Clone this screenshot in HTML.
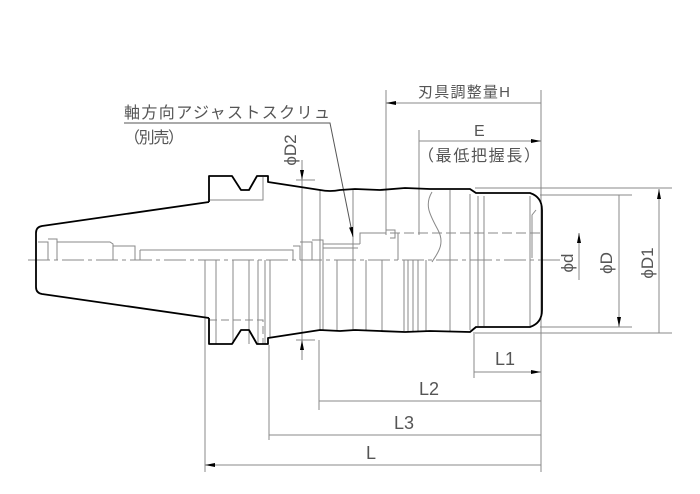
<!DOCTYPE html>
<html><head><meta charset="utf-8"><style>html,body{margin:0;padding:0;background:#fff}svg{display:block}</style></head>
<body>
<svg width="700" height="494" viewBox="0 0 700 494" xmlns="http://www.w3.org/2000/svg" font-family="Liberation Sans, Noto Sans CJK JP, sans-serif">
<defs>
<marker id="a" viewBox="0 0 10 4" refX="10" refY="2" markerWidth="10" markerHeight="4" orient="auto-start-reverse" markerUnits="userSpaceOnUse"><path d="M0,0 L10,2 L0,4z" fill="#000"/></marker>
</defs>
<g stroke="#888" stroke-width="1" fill="none">
<path d="M28,260 H560" stroke-dasharray="22,4,4,4"/>
<path d="M390,233 H540" stroke-dasharray="10,4"/>
<path d="M209,320 H263 V344" stroke-dasharray="8,4"/>
<path d="M209,200 H263 V177"/>
<path d="M38,242 H48 V260 M48,239 H57 V260 M57,242 H110 L113,244 V260 M113,246 H135 V260 M140,250 V260 M140,250 H293 V260 M293,246 H300 V260 M300,242 H312 V260 M312,240 H323 V260 M323,244 H360 M323,248 H358 M360,244 V233 H386 V230 H395 V238 H390"/>
<path d="M398,233 V260"/>
<path d="M205,260 V345 M216,260 V344 M233,260 V344 M249,260 V344 M258,260 V344 M265,260 V344 M270,260 V337 M320,260 V331 M323,260 V331 M337,260 V331 M353,260 V331 M366,260 V331 M382,260 V331 M404,260 V331 M408,260 V331 M413,260 V331 M418,260 V331 M426,260 V331 M450,260 V331 M470,194 V330 M484,196 V326 M478,196 V326 M530,196 V326"/>
<path d="M320,190 V260 M353,190 V260 M450,190 V260"/>
<path d="M432,192 C424,205 430,215 438,230 C446,245 436,255 432,262" />
<path d="M536,210 L532,215 V258"/>
<path d="M205,330 V472 M269,345 V440 M319,340 V410 M474,332 V378 M541,90 V472 M386,90 V235 M419,130 V235"/>
<path d="M205,465 H541 M269,435 H541 M319,401 H541 M474,372 H541" marker-start="url(#a)" marker-end="url(#a)"/>
<path d="M386,103 H541 M419,141 H541" marker-start="url(#a)" marker-end="url(#a)"/>
<path d="M475,188 H672 M475,333 H672 M540,195 H632 M540,327 H632"/>
<path d="M659,189 V333 M619,195 V327" marker-start="url(#a)" marker-end="url(#a)"/>
<path d="M579,280 V233" marker-end="url(#a)"/>
<path d="M302,160 V180" marker-end="url(#a)"/>
<path d="M302,360 V340" marker-end="url(#a)"/>
<path d="M296,180 H315 M296,340 H315 M302,180 V340"/>
<path d="M124,123 H330 L353,237" marker-end="url(#a)" stroke="#555"/>
</g>
<g stroke="#000" stroke-width="1.8" fill="none" stroke-linejoin="round">
<path d="M209,202 L42,226 Q36,227 36,233 V287 Q36,293 42,294 L209,318"/>
<path d="M209,202 V176 H232 L241,190 H249 L257,176 H268 V182 L320,190 Q330,192 340,190 L355,189 L380,190 L405,188 L430,189 L470,189 L476,193 H530 Q542,197 542,210 V310 Q542,323 530,327 H476 L470,332 L430,331 L405,332 L380,331 L355,330 L340,331 L320,330 L268,338 V344 H257 L249,330 H241 L232,344 H209 V318"/>
</g>
<g fill="#555">
<text x="418" y="97" font-size="15" textLength="92">刃具調整量H</text>
<text x="474" y="136" font-size="16">E</text>
<text x="418" y="161" font-size="16" textLength="122">（最低把握長）</text>
<text x="124" y="118" font-size="16" textLength="206">軸方向アジャストスクリュ</text>
<text x="124" y="143" font-size="16" textLength="60">（別売）</text>
<text x="366" y="459" font-size="18">L</text>
<text x="394" y="429" font-size="18">L3</text>
<text x="419" y="395" font-size="18">L2</text>
<text x="495" y="365" font-size="18">L1</text>
<text transform="translate(296,150) rotate(-90)" text-anchor="middle" font-size="17">ϕD2</text>
<text transform="translate(573,263) rotate(-90)" text-anchor="middle" font-size="17">ϕd</text>
<text transform="translate(612,263) rotate(-90)" text-anchor="middle" font-size="17">ϕD</text>
<text transform="translate(653,263) rotate(-90)" text-anchor="middle" font-size="17">ϕD1</text>
</g>
</svg>
</body></html>
